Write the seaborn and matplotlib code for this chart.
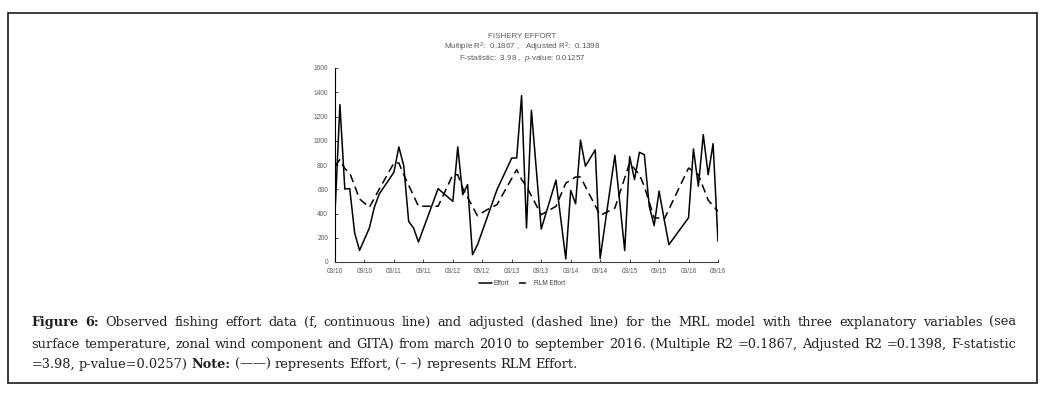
import numpy as np
import pandas as pd
import matplotlib
matplotlib.use("Agg")
import matplotlib.pyplot as plt
from matplotlib.patches import Rectangle
import seaborn as sns

# observed effort, month index from 03/2010
effort_month = [0, 1, 2, 3, 4, 5, 7, 8, 9, 10, 11, 12, 13, 14, 15, 16, 17, 21, 24, 25,
                26, 27, 28, 29, 33, 36, 37, 38, 39, 40, 42, 45, 47, 48, 49, 50, 51, 53, 54, 57,
                59, 60, 61, 62, 63, 64, 65, 66, 67, 68, 72, 73, 74, 75, 76, 77, 78]
effort = [400, 1298, 602, 605, 240, 96, 280, 450, 560, 620, 680, 740, 949, 795, 335, 280, 165, 605, 500, 949,
          555, 638, 60, 140, 597, 858, 858, 1372, 280, 1251, 272, 675, 25, 590, 480, 1005, 790, 925, 30, 880,
          95, 870, 680, 905, 885, 460, 300, 585, 360, 143, 365, 932, 625, 1050, 720, 976, 170]

# fitted RLM effort
rlm_month = [0, 1, 2, 3, 5, 7, 9, 12, 13, 14, 17, 21, 24, 25, 26, 29, 31, 33, 37, 38,
             39, 42, 45, 47, 49, 50, 54, 57, 60, 62, 63, 65, 66, 67, 72, 74, 76, 78]
rlm = [790, 845, 770, 735, 520, 451, 600, 817, 817, 720, 460, 460, 720, 720, 610, 382, 432, 473, 762, 680,
       624, 390, 459, 650, 701, 701, 385, 445, 817, 720, 624, 363, 363, 349, 775, 720, 510, 418]

tick_months = [0, 6, 12, 18, 24, 30, 36, 42, 48, 54, 60, 66, 72, 78]
tick_labels = ["03/10", "09/10", "03/11", "09/11", "03/12", "09/12", "03/13",
               "09/13", "03/14", "09/14", "03/15", "09/15", "03/16", "09/16"]

title_lines = ["FISHERY EFFORT",
               "Multiple R$^2$:  0.1867 ,   Adjusted R$^2$:  0.1398",
               "F-statistic:  3.98 ,  $p$-value: 0.01257"]

caption_lines = [
    [("Figure", True), ("6:", True)] + [(w, False) for w in
     "Observed fishing effort data (f, continuous line) and adjusted (dashed line) for the MRL model with three explanatory variables (sea".split()],
    [(w, False) for w in
     "surface temperature, zonal wind component and GITA) from march 2010 to september 2016. (Multiple R2 =0.1867, Adjusted R2 =0.1398, F-statistic".split()],
    [(w, False) for w in "=3.98, p-value=0.0257)".split()] + [("Note:", True)] + [(w, False) for w in
     "(\u2014\u2014) represents Effort, (\u2013\u00a0\u2013) represents RLM Effort.".split()],
]

sns.set_theme(style="white")
plt.rcParams['font.family'] = ['Liberation Sans', 'DejaVu Sans']
plt.rcParams['mathtext.fontset'] = 'custom'
plt.rcParams['mathtext.rm'] = 'Liberation Sans'
plt.rcParams['mathtext.it'] = 'Liberation Sans:italic'

W, H = 1049, 398
fig = plt.figure(figsize=(W / 100, H / 100), dpi=100)
fig.patch.set_facecolor('white')

# outer frame round chart and caption
fig.add_artist(Rectangle((8 / W, 1 - 383 / H), 1028.5 / W, 370 / H, transform=fig.transFigure,
                         fill=False, edgecolor='#1a1a1a', linewidth=1.2))

ax = fig.add_axes([335 / W, 1 - 262 / H, 383 / W, 194 / H])

df = pd.concat([
    pd.DataFrame({'month': effort_month, 'value': effort, 'series': 'Effort'}),
    pd.DataFrame({'month': rlm_month, 'value': rlm, 'series': 'RLM Effort'}),
])
sns.lineplot(data=df, x='month', y='value', style='series', estimator=None,
             dashes={'Effort': '', 'RLM Effort': (5.5, 3.2)}, color='black',
             linewidth=1.1, ax=ax, legend=True)

ax.set_xlim(0, 78)
ax.set_ylim(0, 1600)
ax.set_yticks(range(0, 1601, 200))
ax.set_xticks(tick_months)
ax.set_xticklabels(tick_labels)
ax.set_xlabel('')
ax.set_ylabel('')
sns.despine(ax=ax)
ax.spines['left'].set_color('black')
ax.spines['left'].set_linewidth(0.8)
ax.spines['bottom'].set_color('#404040')
ax.spines['bottom'].set_linewidth(0.8)
ax.tick_params(axis='y', direction='in', length=2, width=0.6, pad=5, labelsize=4.7,
               labelcolor='#595959', left=True)
ax.tick_params(axis='x', direction='in', length=2, width=0.6, pad=4, labelsize=4.7,
               labelcolor='#595959', bottom=True)

handles, labels = ax.get_legend_handles_labels()
ax.get_legend().remove()
for h, lab in zip(handles, labels):
    h.set_linewidth(1.1)
    h.set_color('black')
    if lab == 'RLM Effort':
        # one short dash in the key, as in the original
        h.set_linestyle((0, (4.5, 10)))
fig.legend(handles, labels, loc='center', bbox_to_anchor=(522 / W, 1 - 283.5 / H), ncol=2,
           frameon=False, fontsize=4.7, handlelength=2.0, handletextpad=0.2, columnspacing=1.6,
           labelcolor='#404040')

for i, line in enumerate(title_lines):
    fig.text(522 / W, 1 - (36.7 + 10.8 * i) / H, line, ha='center', va='center',
             fontsize=5.8, color='#595959')

# caption, justified word by word
renderer = fig.canvas.get_renderer()
baselines = [325.7, 347.7, 367.7]
cap_size = 9.3
x0, x1 = 31.5, 1016
for k, words in enumerate(caption_lines):
    texts = []
    for w, bold in words:
        t = fig.text(0, 1 - baselines[k] / H, w, fontsize=cap_size, va='baseline', ha='left',
                     family=['DejaVu Serif'],
                     fontweight='bold' if bold else 'normal', color='#231f20')
        texts.append(t)
    widths = [t.get_window_extent(renderer).width for t in texts]
    if k < 2:
        gap = (x1 - x0 - sum(widths)) / (len(texts) - 1)
    else:
        gap = cap_size * 0.3 * 100 / 72
    x = x0
    for t, wd in zip(texts, widths):
        t.set_x(x / W)
        x += wd + gap

fig.savefig('out.png', dpi=100)
